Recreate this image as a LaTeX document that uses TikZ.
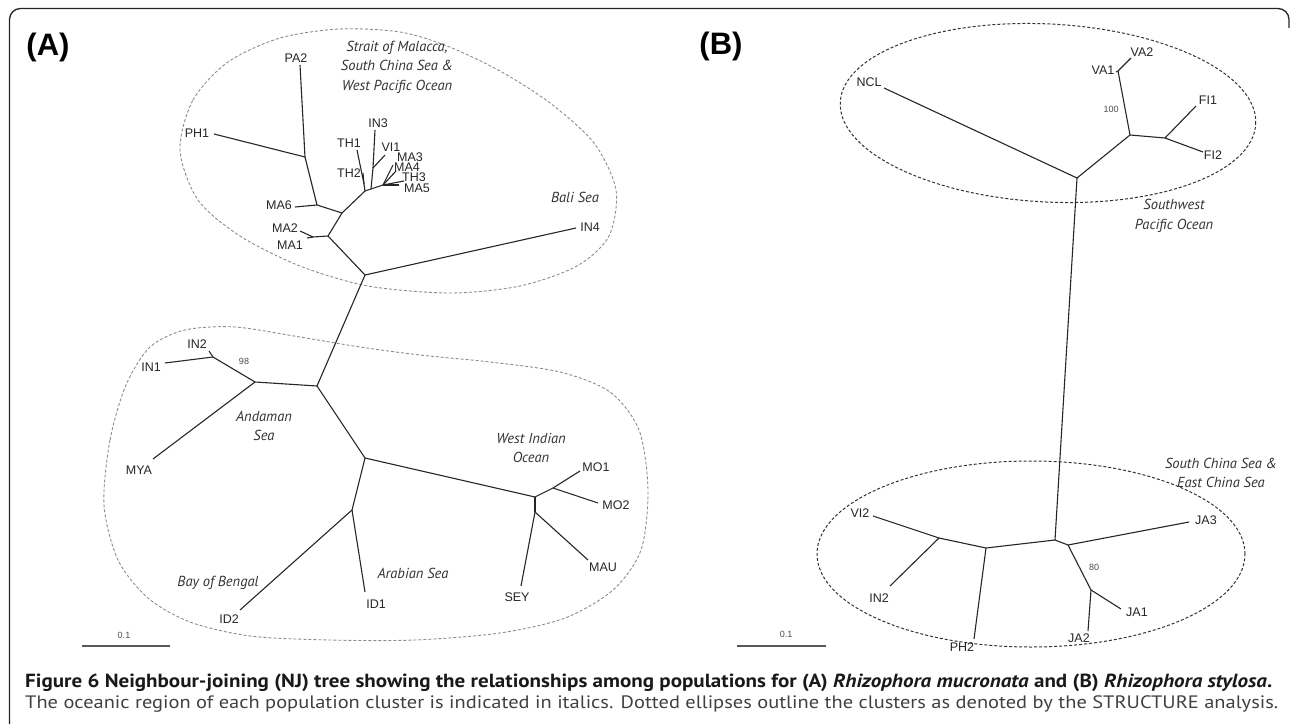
\documentclass[tikz,border=0pt]{standalone}
\usepackage{fontspec}
\usepackage{graphicx}
\setmainfont{Liberation Sans}
\newfontfamily\regfont{PT Sans}
\tikzset{
  branch/.style={draw=black!85, line width=1.1pt},
  taxon/.style={font=\fontsize{12.5}{12.5}\selectfont, text=black!85, inner sep=0pt},
  region/.style={font=\regfont\itshape\fontsize{14.5}{19.5}\selectfont, text=black!80, align=center, inner sep=0pt},
  boot/.style={font=\fontsize{9}{9}\selectfont, text=black!70, inner sep=0pt},
  clusterA/.style={draw=black!45, dash pattern=on 3pt off 2pt, line width=0.9pt},
  clusterB/.style={draw=black!80, dash pattern=on 3pt off 2pt, line width=1pt},
  panel/.style={font=\bfseries\fontsize{31}{31}\selectfont, inner sep=0pt},
  scalebar/.style={draw=black!65, line width=1.6pt},
  frame/.style={draw=black!85, line width=1.3pt, rounded corners=11pt}
}
\begin{document}
\begin{tikzpicture}[x=1pt,y=-1pt]
\useasboundingbox (0,0) rectangle (1290,725);
\draw[frame] (9.5,724) -- (9.5,8.5) -- (1289,8.5) -- (1289,28);
\node[panel] (pA) at (48,47) {(A)};
\node[panel] (pB) at (721,46) {(B)};

\draw[clusterA] plot[smooth cycle] coordinates {(180,150) (193,100) (228,62) (280,38) (340,29) (400,32) (447,46) (500,71) (550,103) (594,143) (616,190) (609,236) (577,266) (520,286) (450,293) (368,286) (300,266) (240,236) (198,200)};
\draw[clusterA] plot[smooth cycle] coordinates {(104,505) (110,440) (126,385) (150,347) (185,330) (235,327) (300,337) (360,347) (420,355) (490,362) (560,372) (610,392) (639,430) (648,490) (641,550) (613,590) (565,618) (500,633) (415,640) (330,640) (250,636) (190,622) (148,598) (118,560)};
\draw[clusterB, rotate around={-3:(1048,113)}] (1048,113) ellipse [x radius=208pt, y radius=89pt];
\draw[clusterB] (1031,554) ellipse [x radius=214pt, y radius=93pt];

\foreach \n/\x/\y in {a1/365/275, a2/317/386, a3/365/458, aand/255/382, ain/213/357, awi/535/497, amo/553/488, asm/535/512, aid/352/510,
  ama/328/236, am12/313/237, aj2/342/213, am6/317/205, aph/305/157, ath/365/191, ath12/364/184, ain3/371/189, avi/373/168, ama3/383/185,
  b1/1077/178, b2/1130/135, bfi/1165/138, bva/1118/71, b3/1055/540, bl/986/548, bvi/939/538, bja/1068/545, bja12/1091/590}
  \coordinate (\n) at (\x,\y);

\foreach \n/\x/\y/\lx/\ly/\t in {pa2/300/65/296/58/PA2, ph1/214/134/197/133/PH1, ma6/295/207/279/205/MA6, ma2/300/231/285/228/MA2,
  ma1/307/238/290/245/MA1, th1/357/150/349/143/TH1, th2/363/173/349/173/TH2, in3/375/130/378/123/IN3, vi1/385/155/391/147/VI1,
  ma3/393/165/410/157/MA3, ma4/396/171/407/167.5/MA4, th3/404/181/414/177.5/TH3, ma5/399/185/417/188/MA5, in4/576/228/590/227/IN4,
  in2/209/351/197/344/IN2, in1/165/363/151/367/IN1, mya/153/459/139/470/MYA, mo1/580/471/596/467/MO1, mo2/598/503/616/505/MO2,
  sey/521/586/517/597/SEY, mau/588/560/603/567/MAU, id1/365/592/376/604/ID1, id2/240/610/229/619/ID2,
  ncl/884/88/869/82/NCL, va1/1116/72/1103/70/VA1, va2/1131/58/1142/52/VA2, fi1/1196/106/1208/100/FI1, fi2/1203/152/1213/155/FI2,
  vi2/873/516/860/513/VI2, in2b/890/586/879/598/IN2, ph2/974/639/962/647/PH2, ja3/1189/522/1206/520/JA3, ja1/1121/609/1137/612/JA1,
  ja2/1088/631/1079/638/JA2}
  {\coordinate (\n) at (\x,\y); \node[taxon] (\n-l) at (\lx,\ly) {\t};}

\foreach \u/\v in {a1/a2, a1/in4, a1/ama, ama/am12, am12/ma2, am12/ma1, ama/aj2, aj2/am6, am6/ma6, am6/aph, aph/pa2, aph/ph1,
  aj2/ath, ath/ath12, ath12/th1, ath12/th2, ath/ain3, ain3/avi, avi/in3, avi/vi1, ain3/ama3, ama3/ma3, ama3/ma4, ama3/th3, ama3/ma5,
  a2/aand, aand/ain, ain/in2, ain/in1, aand/mya, a2/a3, a3/awi, awi/amo, amo/mo1, amo/mo2, awi/asm, asm/sey, asm/mau,
  a3/aid, aid/id1, aid/id2,
  b1/ncl, b1/b2, b2/bva, bva/va1, bva/va2, b2/bfi, bfi/fi1, bfi/fi2, b1/b3, b3/bl, bl/bvi, bvi/vi2, bvi/in2b, bl/ph2,
  b3/bja, bja/ja3, bja/bja12, bja12/ja1, bja12/ja2}
  \draw[branch] (\u) -- (\v);

\node[boot] (bs98) at (244,361) {98};
\node[boot] (bs100) at (1111,109) {100};
\node[boot] (bs80) at (1094,567) {80};

\node[region] (strait) at (397,67) {Strait of Malacca,\\South China Sea \&\\West Pacific Ocean};
\node[region] (bali) at (575,197) {Bali Sea};
\node[region] (andaman) at (264,426) {Andaman\\Sea};
\node[region] (westind) at (531,448) {West Indian\\Ocean};
\node[region] (bengal) at (218,583) {Bay of Bengal};
\node[region] (arabian) at (413,573) {Arabian Sea};
\node[region] (swpac) at (1174,216) {Southwest\\Pacific Ocean};
\node[region] (china) at (1221,473) {South China Sea \&\\East China Sea};

\coordinate (sa1) at (82,646); \coordinate (sa2) at (170,646);
\coordinate (sb1) at (737,646); \coordinate (sb2) at (826,646);
\draw[scalebar] (sa1) -- (sa2);
\draw[scalebar] (sb1) -- (sb2);
\node[boot] (sca) at (124,635) {0.1};
\node[boot] (scb) at (786,634) {0.1};

\node[anchor=base west, inner sep=0pt, text=black!90] (cap1) at (25,687)
  {\resizebox{1247pt}{\height}{\regfont\fontsize{19}{19}\selectfont\bfseries Figure 6 Neighbour-joining (NJ) tree showing the relationships among populations for (A) \textit{Rhizophora mucronata} and (B) \textit{Rhizophora stylosa}.}};
\node[anchor=base west, inner sep=0pt, text=black!75] (cap2) at (25,708)
  {\resizebox{1253pt}{\height}{\regfont\fontsize{18}{18}\selectfont The oceanic region of each population cluster is indicated in italics. Dotted ellipses outline the clusters as denoted by the STRUCTURE analysis.}};
\end{tikzpicture}
\end{document}
